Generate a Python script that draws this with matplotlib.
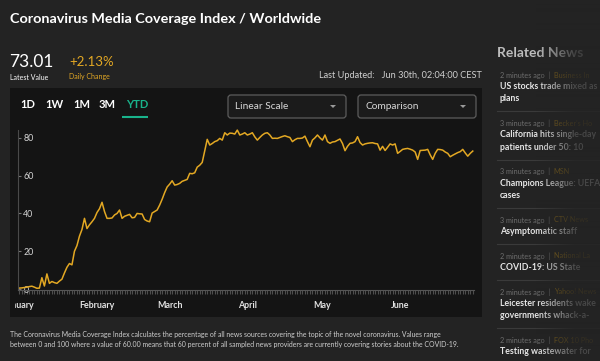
import matplotlib.pyplot as plt
import matplotlib.dates as mdates
from matplotlib.patches import Rectangle, FancyBboxPatch
from matplotlib.transforms import Bbox, TransformedBbox
import numpy as np
import pandas as pd

plt.rcParams['font.family'] = ['Lato', 'DejaVu Sans']

# daily index values, 1 Jan - 30 Jun 2020
jan = [0.5, 0.6, 0.8, 1.0, 1.3, 1.5, 1.0, 0.4, 0.5, 6.0, 1.6, 8.0, 3.0, 4.0, 3.4, 3.0,
       4.2, 5.2, 8.5, 11.5, 13.5, 12.8, 20.0, 23.0, 28.0, 31.5, 37.4, 32.0, 34.0, 35.6, 37.4]
feb = [40.5, 42.5, 45.9, 41.0, 37.4, 37.4, 37.6, 39.2, 40.0, 41.8, 37.4, 38.5, 39.0, 39.5,
       37.7, 37.9, 40.0, 39.8, 39.7, 36.8, 36.0, 35.6, 40.2, 41.0, 41.8, 44.4, 47.5, 51.0, 54.0]
mar = [55.5, 57.3, 55.0, 55.3, 55.9, 57.0, 57.5, 58.0, 61.2, 61.0, 61.5, 64.5, 65.5, 67.0,
       73.0, 79.2, 76.2, 77.0, 78.0, 78.5, 79.7, 78.8, 82.7, 81.5, 82.5, 82.4, 82.0, 84.1,
       81.5, 82.0, 82.7]
apr = [81.5, 82.0, 82.7, 80.5, 78.8, 80.2, 81.5, 82.4, 82.7, 81.5, 79.7, 79.8, 79.7, 80.2,
       80.7, 81.1, 80.6, 80.2, 78.0, 79.0, 79.7, 79.7, 79.9, 80.9, 78.0, 75.3, 78.8, 80.0,
       81.5, 80.0]
may = [78.8, 81.5, 78.0, 77.1, 77.8, 78.0, 78.7, 79.4, 77.0, 73.2, 75.5, 77.1, 77.3, 78.0,
       80.6, 77.5, 76.2, 76.8, 77.1, 77.3, 77.4, 77.0, 76.8, 73.5, 75.5, 73.3, 75.0, 76.8,
       76.2, 76.8, 71.8]
jun = [72.8, 73.9, 74.2, 74.4, 74.0, 73.5, 72.5, 68.6, 73.3, 73.4, 73.5, 73.9, 71.0, 68.6,
       71.8, 73.9, 73.8, 73.5, 72.5, 71.8, 70.0, 70.8, 71.5, 72.2, 72.7, 73.9, 72.0, 70.3,
       71.8, 73.0]
coverage = jan + feb + mar + apr + may + jun
dates = pd.date_range('2020-01-01', periods=len(coverage), freq='D')

y_ticks = [0, 20, 40, 60, 80]
ranges = ['1D', '1W', '1M', '3M', 'YTD']
latest_value = '73.01'
daily_change = '+2.13%'

# sidebar items, cut where the page cuts them
news = [
    ('2 minutes ago', 'Business In', ['US stocks trade mixed as', 'plans']),
    ('3 minutes ago', "Becker's Ho", ['California hits single-day', 'patients under 50: 10']),
    ('3 minutes ago', 'MSN', ['Champions League: UEFA', 'cases']),
    ('3 minutes ago', 'CTV News', ['Asymptomatic staff']),
    ('2 minutes ago', 'National La', ['COVID-19: US State']),
    ('2 minutes ago', 'Yahoo! News', ['Leicester residents wake', 'governments whack-a-']),
    ('2 minutes ago', 'FOX 10 Pho', ['Testing wastewater for']),
]

PAGE = '#232323'
PANEL = '#141414'
GOLD = '#e3a823'
W, H = 600, 361

fig = plt.figure(figsize=(6, 3.61), dpi=100, facecolor=PAGE)

bg = fig.add_axes([0, 0, 1, 1], zorder=0)
bg.set_xlim(0, W)
bg.set_ylim(H, 0)
bg.axis('off')

bg.add_patch(Rectangle((10, 88), 472, 229, color=PANEL, lw=0))

bg.text(10, 19, 'Coronavirus Media Coverage Index / Worldwide', color='white',
        fontsize=10.4, fontweight='bold', va='center')
bg.text(9, 62, latest_value, color='white', fontsize=12.5, va='center')
bg.text(10, 77, 'Latest Value', color='white', fontsize=5, va='center')
bg.text(69, 62, daily_change, color=GOLD, fontsize=9.5, va='center')
bg.text(69, 77, 'Daily Change', color=GOLD, fontsize=5, va='center')
bg.text(482, 76, 'Last Updated:   Jun 30th, 02:04:00 CEST', color='#d0d0d0',
        fontsize=6.6, va='center', ha='right')

for label, x in zip(ranges, [20, 45, 73, 99, 126]):
    bg.text(x, 105, label, color='#19b38b' if label == 'YTD' else 'white',
            fontsize=8, fontweight='bold', va='center')
bg.plot([122, 148], [116.5, 116.5], color='#19b38b', lw=1.5, solid_capstyle='butt')

for x0, x1, label in [(228, 346, 'Linear Scale'), (358, 476, 'Comparison')]:
    bg.add_patch(FancyBboxPatch((x0, 95), x1 - x0, 23, boxstyle='round,pad=0,rounding_size=3',
                                fc='#1b1b1b', ec='#5c5c5c', lw=0.9))
    bg.text(x0 + 7, 106.5, label, color='#d8d8d8', fontsize=7.3, va='center')
    bg.add_patch(plt.Polygon([[x1 - 16, 105], [x1 - 10, 105], [x1 - 13, 108]], color='#9a9a9a', lw=0))

bg.text(10, 334, 'The Coronavirus Media Coverage Index calculates the percentage of all news sources '
        'covering the topic of the novel coronavirus. Values range', color='#cfcfcf', fontsize=4.93, va='center')
bg.text(10, 344.5, 'between 0 and 100 where a value of 60.00 means that 60 percent of all sampled news '
        'providers are currently covering stories about the COVID-19.', color='#cfcfcf', fontsize=4.93, va='center')

# sidebar
bg.text(497, 53, 'Related News', color='#bdbdbd', fontsize=10, fontweight='bold', va='center')
y = 75
for i, (when, source, lines) in enumerate(news):
    t = bg.text(500, y, when + '  |  ', color='#6e6e6e', fontsize=5.2, va='center')
    bg.annotate(source, xy=(1, 0.5), xycoords=t, color='#8a6a1c', fontsize=5.2, va='center')
    for k, line in enumerate(lines):
        bg.text(500, y + 11.5 + 12.3 * k, line, color='#e6e6e6', fontsize=6.3,
                fontweight='bold', va='center')
    sep = y + 11.5 + 12.3 * (len(lines) - 1) + 12.5
    if i < len(news) - 1:
        bg.plot([497, 600], [sep, sep], color='#3a3a3a', lw=0.8)
    y = sep + 12

# chart
ax = fig.add_axes([18.3 / W, 1 - 289.6 / H, 455.2 / W, 159.7 / H], zorder=1)
ax.set_facecolor('none')
ax.plot(dates, coverage, color=GOLD, lw=1.1, solid_joinstyle='round', clip_on=False)
ax.set_xlim(dates[0] - pd.Timedelta(hours=10), dates[-1] + pd.Timedelta(hours=7))
ax.set_ylim(-0.3, 84.2)

for side in ['top', 'right']:
    ax.spines[side].set_visible(False)
ax.spines['left'].set_color('#4a4a4a')
ax.spines['bottom'].set_color('#555555')

ax.set_yticks(y_ticks)
ax.tick_params(axis='y', direction='in', length=2, color='#777777', labelcolor='#d6d6d6',
               labelsize=6.4, pad=-3.6)
for lbl in ax.get_yticklabels():
    lbl.set_horizontalalignment('left')

ax.xaxis.set_major_locator(mdates.MonthLocator())
ax.xaxis.set_major_formatter(mdates.DateFormatter('%B'))
ax.xaxis.set_minor_locator(mdates.DayLocator())
ax.tick_params(axis='x', which='both', direction='out', length=3, color='#4e4e4e', width=0.8)
ax.tick_params(axis='x', which='major', labelcolor='#e2e2e2', labelsize=6.4, pad=5)
clip = TransformedBbox(Bbox([[15 / W, 0], [1, 1]]), fig.transFigure)
for lbl in ax.get_xticklabels():
    lbl.set_fontweight('bold')
    lbl.set_clip_on(True)
    lbl.set_clip_box(clip)

# fade of the sidebar text to the right
fade = fig.add_axes([0, 0, 1, 1], zorder=5)
alpha = np.clip((np.arange(W) - 535) / 40.0, 0, 1) * 0.82
rgba = np.zeros((1, W, 4))
rgba[..., :3] = 35 / 255
rgba[0, :, 3] = alpha
fade.imshow(rgba, extent=[0, W, H, 0], aspect='auto', interpolation='bilinear')
fade.set_xlim(0, W)
fade.set_ylim(H, 0)
fade.axis('off')

fig.savefig('out.png', dpi=100, facecolor=PAGE)
